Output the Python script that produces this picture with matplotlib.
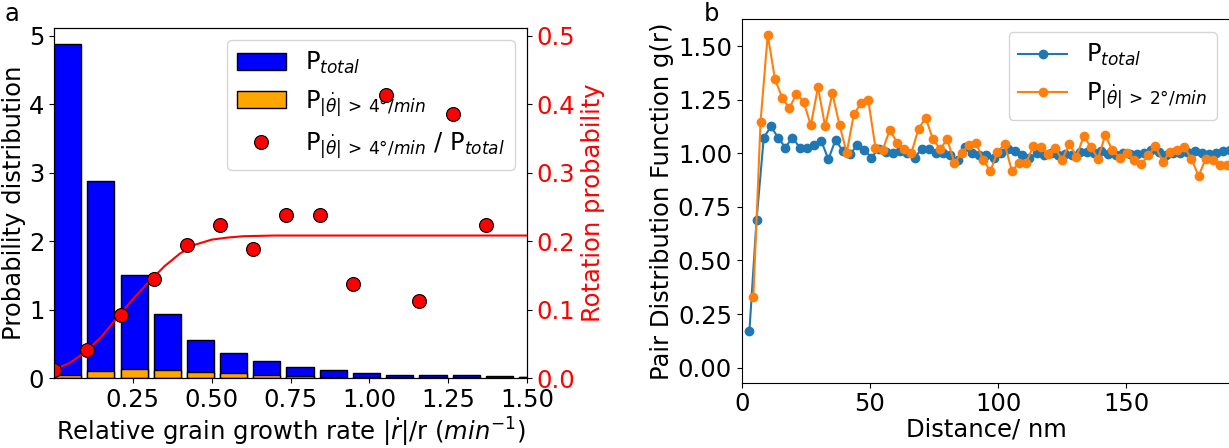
import matplotlib
matplotlib.use("Agg")
import matplotlib.pyplot as plt
from matplotlib.patches import Patch
from matplotlib.lines import Line2D

# ---------------- Panel a data ----------------
bin_left = [0.000, 0.105, 0.211, 0.316, 0.421, 0.527, 0.632, 0.737,
            0.843, 0.948, 1.053, 1.159, 1.264, 1.369, 1.474]
p_total = [4.87, 2.87, 1.50, 0.94, 0.55, 0.37, 0.25, 0.16,
           0.12, 0.07, 0.05, 0.05, 0.04, 0.03, 0.02]
p_rot = [0.045, 0.107, 0.137, 0.122, 0.093, 0.068, 0.044, 0.030,
         0.020, 0.010, 0.015, 0.010, 0.008, 0.005, 0.020]
ratio_x = bin_left[:14]
ratio = [0.011, 0.041, 0.092, 0.145, 0.194, 0.223, 0.189, 0.238,
         0.238, 0.137, 0.413, 0.113, 0.386, 0.223]
fit_x = [0.0, 0.05, 0.10, 0.15, 0.20, 0.25, 0.30, 0.35, 0.40, 0.45,
         0.50, 0.55, 0.60, 0.70, 0.80, 1.00, 1.50]
fit_y = [0.012, 0.022, 0.038, 0.060, 0.088, 0.115, 0.140, 0.163, 0.182,
         0.195, 0.202, 0.205, 0.207, 0.208, 0.208, 0.208, 0.208]
xticks_a = [0.25, 0.50, 0.75, 1.00, 1.25, 1.50]

# ---------------- Panel b data ----------------
blue_x0, blue_step = 3.0, 2.8
orange_x0, orange_step = 4.55, 2.8
g_total = [0.17, 0.69, 1.073, 1.125, 1.073, 1.027, 1.073, 1.027, 1.027, 1.038,
           1.058, 0.972, 1.063, 1.011, 0.995, 1.038, 1.016, 0.980, 1.022, 1.006,
           1.00, 1.01, 1.00, 0.98, 1.02, 1.02, 1.00, 1.00, 0.99, 0.97,
           1.03, 1.00, 0.99, 0.99, 0.98, 1.00, 1.02, 1.01, 0.99, 0.98,
           1.00, 0.99, 1.00, 0.99, 0.995, 0.99, 1.006, 1.006, 1.00, 1.01,
           0.995, 0.99, 1.00, 0.995, 0.995, 1.00, 1.016, 1.006, 0.99, 1.00,
           1.00, 1.006, 1.01, 1.00, 0.995, 1.00, 1.01, 1.016]
g_rot = [0.33, 1.147, 1.553, 1.347, 1.26, 1.21, 1.277, 1.24, 1.131, 1.308,
         1.125, 1.28, 1.131, 1.003, 1.183, 1.233, 1.248, 1.027, 1.014, 1.11,
         1.05, 1.02, 1.00, 1.115, 1.165, 1.066, 1.02, 1.066, 0.956, 1.00,
         1.04, 1.047, 0.97, 0.917, 1.006, 1.044, 0.917, 0.956, 0.956, 1.034,
         1.03, 0.997, 1.025, 0.97, 1.044, 0.984, 1.08, 1.03, 0.975, 1.084,
         1.016, 0.98, 1.003, 0.97, 0.95, 0.99, 1.034, 0.96, 1.006, 1.016,
         1.03, 0.975, 0.894, 0.975, 0.97, 0.944, 0.944]
blue_x = [blue_x0 + blue_step * i for i in range(len(g_total))]
orange_x = [orange_x0 + orange_step * i for i in range(len(g_rot))]

FS = 17.5
plt.rcParams['font.family'] = ['DejaVu Sans']
plt.rcParams['mathtext.fontset'] = 'dejavusans'

W, H = 1229, 448
fig = plt.figure(figsize=(W / 100, H / 100), dpi=100)

# ---------------- Panel a ----------------
L, R, T, B = 54, 527, 28, 378
ax = fig.add_axes([L / W, 1 - B / H, (R - L) / W, (B - T) / H])
ax.bar(bin_left, p_total, width=0.086, align='edge', color='#0000ff',
       edgecolor='black', linewidth=1.0)
ax.bar(bin_left, p_rot, width=0.086, align='edge', color='orange',
       edgecolor='black', linewidth=1.0)
ax.set_xlim(0, 1.5)
ax.set_ylim(0, 5.11)
ax.set_xticks(xticks_a)
ax.set_xticklabels([f"{v:.2f}" for v in xticks_a])
ax.set_yticks([0, 1, 2, 3, 4, 5])
ax.tick_params(labelsize=FS)
ax.set_ylabel('Probability distribution', fontsize=FS, labelpad=2)
ax.set_xlabel(r'Relative grain growth rate $|\dot{r}|$/r ($min^{-1}$)',
              fontsize=FS, labelpad=3)

ax2 = ax.twinx()
ax2.plot(fit_x, fit_y, color='red', lw=1.5)
ax2.plot(ratio_x, ratio, 'o', color='red', mec='black', mew=0.8, ms=10)
ax2.set_ylim(0, 0.511)
ax2.set_yticks([0.0, 0.1, 0.2, 0.3, 0.4, 0.5])
ax2.tick_params(axis='y', labelcolor='red', labelsize=FS)
ax2.set_ylabel('Rotation probability', color='red', fontsize=FS, labelpad=4)

handles = [Patch(facecolor='#0000ff', edgecolor='black'),
           Patch(facecolor='orange', edgecolor='black'),
           Line2D([], [], ls='none', marker='o', color='red', mec='black',
                  mew=0.8, ms=10)]
labels = [r'P$_{total}$',
          r'P$_{|\dot{\theta}|\,>\,4°/min}$',
          r'P$_{|\dot{\theta}|\,>\,4°/min}$ / P$_{total}$']
ax.legend(handles, labels, loc='upper right', fontsize=FS, handlelength=2.0,
          borderaxespad=0.5)

fig.text(12 / W, 1 - 14 / H, 'a', fontsize=FS, ha='center', va='center')

# ---------------- Panel b ----------------
L2, R2, T2, B2 = 741.7, 1232, 19.3, 382.7
bx = fig.add_axes([L2 / W, 1 - B2 / H, (R2 - L2) / W, (B2 - T2) / H])
bx.plot(blue_x, g_total, '-o', color='#1f77b4', ms=6, lw=1.5,
        label=r'P$_{total}$')
bx.plot(orange_x, g_rot, '-o', color='#ff7f0e', ms=6, lw=1.5,
        label=r'P$_{|\dot{\theta}|\,>\,2°/min}$')
bx.set_xlim(0, 191.2)
bx.set_ylim(-0.07, 1.625)
bx.set_xticks([0, 50, 100, 150])
bx.set_yticks([0.0, 0.25, 0.5, 0.75, 1.0, 1.25, 1.5])
bx.set_yticklabels([f"{v:.2f}" for v in [0.0, 0.25, 0.5, 0.75, 1.0, 1.25, 1.5]])
bx.tick_params(labelsize=FS)
bx.set_xlabel('Distance/ nm', fontsize=FS, labelpad=1)
bx.set_ylabel('Pair Distribution Function g(r)', fontsize=FS, labelpad=3)
bx.legend(loc='upper right', fontsize=FS, handlelength=2.0,
          bbox_to_anchor=(1 - 15 / (R2 - L2), 1 - 13 / (B2 - T2)),
          borderaxespad=0)

fig.text(712 / W, 1 - 14 / H, 'b', fontsize=FS, ha='center', va='center')

fig.savefig('out.png', dpi=100)
